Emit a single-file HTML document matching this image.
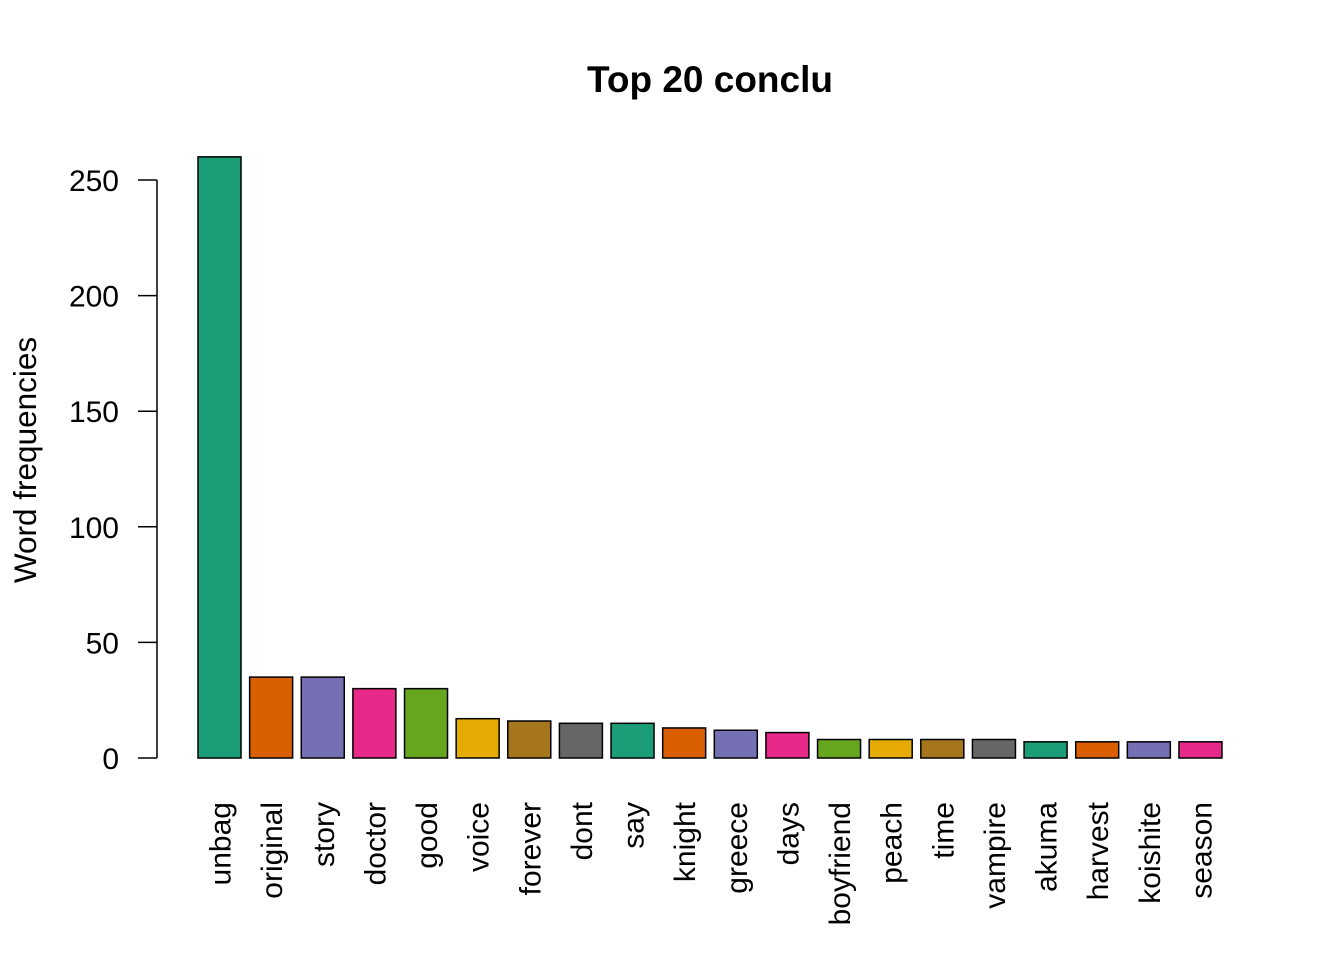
<!DOCTYPE html>
<html><head><meta charset="utf-8"><style>
html,body{margin:0;padding:0;background:#fff;}
svg{display:block;font-family:"Liberation Sans",Arial,sans-serif;}
</style></head><body>
<svg id="chart" width="1344" height="960">
<text x="710" y="92" text-anchor="middle" font-size="37" font-weight="bold">Top 20 conclu</text>
<text transform="translate(36,460) rotate(-90)" text-anchor="middle" font-size="31.5">Word frequencies</text>
<g id="yaxis"></g>
<g id="bars"></g>
<g id="xlabels"></g>
</svg>
<script>
const categories=["unbag","original","story","doctor","good","voice","forever","dont","say","knight","greece","days","boyfriend","peach","time","vampire","akuma","harvest","koishite","season"];
const values=[260,35,35,30,30,17,16,15,15,13,12,11,8,8,8,8,7,7,7,7];
const yTicks=[0,50,100,150,200,250];
const palette=["#1B9E77","#D95F02","#7570B3","#E7298A","#66A61E","#E6AB02","#A6761D","#666666"];
const NS="http://www.w3.org/2000/svg";
const y0=758,pxPer=578/250;
const y=v=>y0-v*pxPer;
const x=i=>198+i*51.63;
const bw=43;
function mk(t,a){const e=document.createElementNS(NS,t);for(const k in a)e.setAttribute(k,a[k]);return e;}
const ya=document.getElementById('yaxis');
const axl=mk('line',{x1:157,x2:157,y1:y(0),y2:y(250),stroke:'#000','stroke-width':1.5});


ya.appendChild(axl);
yTicks.forEach(t=>{
 const l=mk('line',{x1:138,x2:157,y1:y(t),y2:y(t),stroke:'#000','stroke-width':1.5});
 
 
 ya.appendChild(l);
 const tx=mk('text',{x:119,y:y(t)+11,'text-anchor':'end','font-size':30});
 
 
 tx.textContent=t;ya.appendChild(tx);
});
const bg=document.getElementById('bars'),xl=document.getElementById('xlabels');
categories.forEach((c,i)=>{
 const r=mk('rect',{x:x(i),y:y(values[i]),width:bw,height:values[i]*pxPer,fill:palette[i%8],stroke:'#000','stroke-width':1.5});
 
 
 bg.appendChild(r);
 const cx=x(i)+bw/2+11;
 const t=mk('text',{transform:`translate(${cx},802) rotate(-90)`,'text-anchor':'end','font-size':30});
 
 
 t.textContent=c;xl.appendChild(t);
});
</script>
</body></html>
